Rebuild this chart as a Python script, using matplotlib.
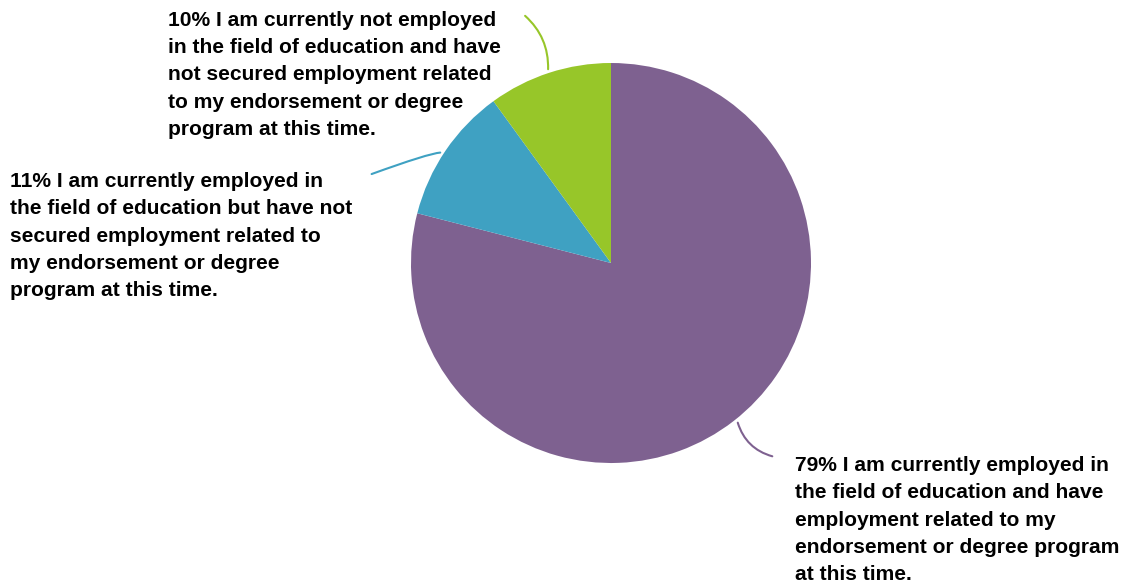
import matplotlib
matplotlib.use("Agg")
import matplotlib.pyplot as plt

shares = [79, 11, 10]
labels = [
    "79% I am currently employed in\nthe field of education and have\nemployment related to my\nendorsement or degree program\nat this time.",
    "11% I am currently employed in\nthe field of education but have not\nsecured employment related to\nmy endorsement or degree\nprogram at this time.",
    "10% I am currently not employed\nin the field of education and have\nnot secured employment related\nto my endorsement or degree\nprogram at this time.",
]
colors = ["#7E6190", "#3FA1C2", "#97C629"]

W, H = 1124, 583
fig = plt.figure(figsize=(W / 100, H / 100), dpi=100)
ax = fig.add_axes([0, 0, 1, 1])

cx, cy, r = 611, H - 263, 200
ax.pie(shares, colors=colors, startangle=90, counterclock=False,
       center=(cx, cy), radius=r, frame=True,
       wedgeprops=dict(linewidth=0))
ax.set_xlim(0, W)
ax.set_ylim(0, H)
ax.axis("off")

font = dict(family=["Liberation Sans", "DejaVu Sans"], fontweight="bold",
            fontsize=15.1, color="#000000", linespacing=1.55)

ax.text(795, H - 456, labels[0], ha="left", va="top", **font)
ax.text(10, H - 172, labels[1], ha="left", va="top", **font)
ax.text(168, H - 11, labels[2], ha="left", va="top", **font)

# leader lines
ax.annotate("", xy=(737, H - 420), xytext=(775, H - 457),
            arrowprops=dict(arrowstyle="-", color=colors[0], lw=1.5,
                            connectionstyle="arc3,rad=-0.3"))
ax.annotate("", xy=(443, H - 153), xytext=(369, H - 175),
            arrowprops=dict(arrowstyle="-", color=colors[1], lw=1.5,
                            connectionstyle="angle3,angleA=20,angleB=-45"))
ax.annotate("", xy=(548, H - 72), xytext=(523, H - 14),
            arrowprops=dict(arrowstyle="-", color=colors[2], lw=1.5,
                            connectionstyle="arc3,rad=-0.25"))

fig.savefig("out.png", dpi=100)
